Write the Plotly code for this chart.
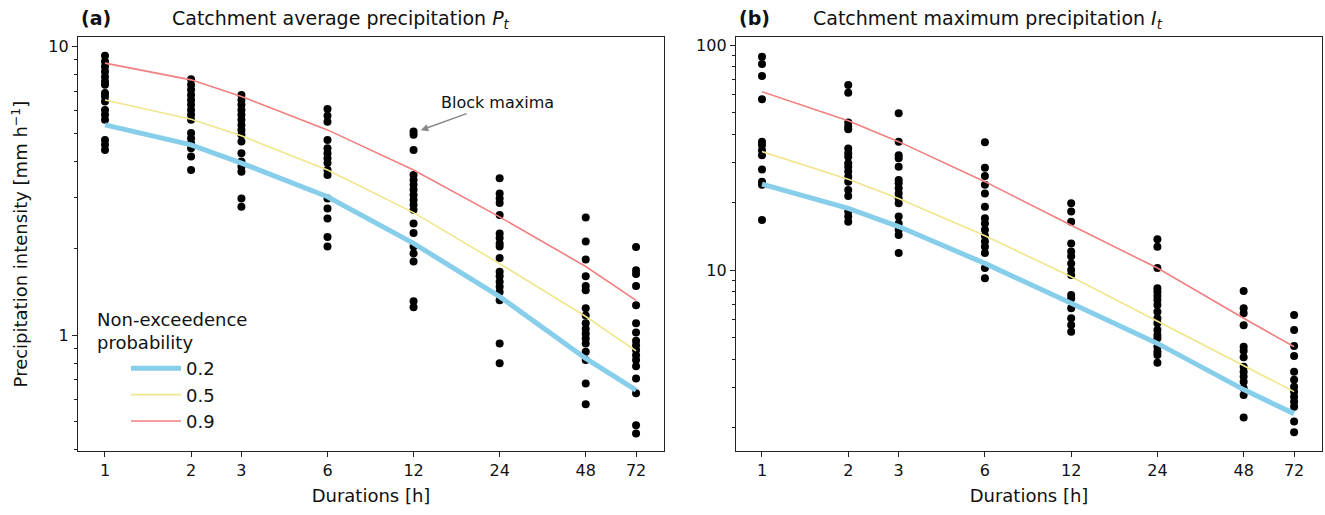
import plotly.graph_objects as go
import numpy as np

W, H = 1325, 515

durations = [1, 2, 3, 6, 12, 24, 48, 72]
duration_labels = ["1", "2", "3", "6", "12", "24", "48", "72"]

# (a) Catchment average precipitation P_t — block maxima [mm/h]
P_1h = [9.31, 8.89, 8.54, 8.21, 7.88, 7.58, 7.38, 6.91, 6.72, 6.46, 6.04, 5.81, 5.58, 4.75, 4.57, 4.39]
P_2h = [7.72, 7.38, 7.10, 6.81, 6.54, 6.29, 6.04, 5.81, 5.58, 5.02, 4.82, 4.63, 4.45, 4.16, 3.74]
P_3h = [6.81, 6.54, 6.29, 6.04, 5.81, 5.58, 5.36, 5.15, 4.95, 4.69, 4.27, 4.00, 3.84, 3.69, 2.98, 2.79]
P_6h = [6.08, 5.76, 5.50, 4.75, 4.45, 4.27, 4.11, 3.95, 3.74, 3.59, 2.98, 2.75, 2.54, 2.19, 2.03]
P_12h = [5.08, 4.95, 4.39, 3.59, 3.45, 3.32, 3.19, 3.06, 2.94, 2.83, 2.72, 2.44, 2.26, 2.03, 1.92, 1.80, 1.31, 1.25]
P_24h = [3.50, 3.10, 2.98, 2.87, 2.61, 2.25, 2.17, 2.08, 2.03, 1.85, 1.66, 1.60, 1.53, 1.47, 1.41, 1.32, 0.936, 0.798]
P_48h = [2.56, 2.11, 1.83, 1.60, 1.48, 1.43, 1.24, 1.17, 1.10, 1.05, 1.01, 0.974, 0.936, 0.875, 0.819, 0.680, 0.576]
P_72h = [2.02, 1.68, 1.63, 1.48, 1.27, 1.10, 1.02, 0.955, 0.923, 0.887, 0.852, 0.819, 0.780, 0.707, 0.628, 0.487, 0.456]

# (a) fitted quantiles by non-exceedence probability
P_q02 = [5.36, 4.57, 3.95, 3.02, 2.08, 1.36, 0.83, 0.644]
P_q05 = [6.54, 5.61, 4.91, 3.74, 2.66, 1.77, 1.16, 0.882]
P_q09 = [8.78, 7.68, 6.72, 5.15, 3.74, 2.57, 1.73, 1.32]

# (b) Catchment maximum precipitation I_t — block maxima [mm/h]
I_1h = [88.7, 82.3, 72.8, 57.4, 37.2, 35.9, 34.1, 32.4, 28.0, 24.7, 23.9, 16.7]
I_2h = [66.4, 61.4, 45.2, 43.4, 42.2, 34.7, 33.0, 31.9, 29.8, 28.8, 27.4, 26.0, 24.7, 22.7, 21.3, 18.2, 17.3, 16.4]
I_3h = [49.7, 37.2, 32.4, 31.4, 28.8, 25.1, 24.3, 23.1, 21.9, 20.8, 19.8, 17.3, 16.1, 15.1, 14.3, 11.9]
I_6h = [37.0, 28.5, 26.2, 23.9, 21.9, 19.1, 17.0, 16.1, 15.1, 14.2, 13.4, 12.7, 11.9, 10.2, 9.18]
I_12h = [19.8, 18.2, 16.4, 13.1, 12.1, 11.5, 10.7, 10.0, 9.50, 7.74, 7.48, 6.76, 6.10, 5.70, 5.32]
I_24h = [13.7, 12.7, 10.2, 8.29, 8.01, 7.66, 7.36, 6.99, 6.53, 6.10, 5.80, 5.41, 5.14, 4.97, 4.56, 4.33, 4.19, 3.87]
I_48h = [8.07, 6.76, 6.42, 5.68, 4.56, 4.38, 4.09, 3.72, 3.53, 3.36, 3.19, 2.98, 2.78, 2.21]
I_72h = [6.31, 5.41, 4.60, 4.15, 3.53, 3.25, 3.03, 2.88, 2.73, 2.60, 2.47, 2.12, 1.90]

# (b) fitted quantiles
I_q02 = [24.1, 18.8, 15.6, 10.7, 7.11, 4.72, 2.94, 2.30]
I_q05 = [33.6, 25.3, 20.8, 14.2, 9.34, 5.94, 3.75, 2.88]
I_q09 = [62.0, 46.1, 37.2, 24.7, 15.8, 10.2, 6.10, 4.56]

prob_labels = ["0.2", "0.5", "0.9"]
prob_colors = ["#87CEEB", "#F0E68C", "#F08080"]
prob_widths = [5, 1.6, 1.6]

P_maxima = [P_1h, P_2h, P_3h, P_6h, P_12h, P_24h, P_48h, P_72h]
I_maxima = [I_1h, I_2h, I_3h, I_6h, I_12h, I_24h, I_48h, I_72h]

FONT = "DejaVu Sans"
fig = go.Figure()

def add_panel(maxima, quantiles, xa, ya, showlegend):
    xs, ys = [], []
    for d, vals in zip(durations, maxima):
        xs += [d] * len(vals)
        ys += vals
    fig.add_trace(go.Scatter(x=xs, y=ys, mode="markers", xaxis=xa, yaxis=ya,
                             marker=dict(color="black", size=8), showlegend=False,
                             name="Block maxima"))
    for q, lab, col, lw in zip(quantiles, prob_labels, prob_colors, prob_widths):
        fig.add_trace(go.Scatter(x=durations, y=q, mode="lines", xaxis=xa, yaxis=ya,
                                 line=dict(color=col, width=lw), name=lab,
                                 showlegend=showlegend))

add_panel(P_maxima, [P_q02, P_q05, P_q09], "x", "y", True)
add_panel(I_maxima, [I_q02, I_q05, I_q09], "x2", "y2", False)

def px_x(p):
    return p / W

def px_y(p):
    return 1 - p / H

common_x = dict(type="log", tickmode="array", tickvals=durations, ticktext=duration_labels,
                ticks="outside", ticklen=5, tickwidth=1.2, tickcolor="#222",
                showline=True, linecolor="#222", linewidth=1.3, mirror=True,
                showgrid=False, zeroline=False, automargin=False,
                tickfont=dict(family=FONT, size=16, color="#111"),
                title=dict(text="Durations [h]", font=dict(family=FONT, size=18, color="#111"), standoff=10))
common_y = dict(type="log", ticks="outside", ticklen=5, tickwidth=1.2, tickcolor="#222",
                showline=True, linecolor="#222", linewidth=1.3, mirror=True,
                showgrid=False, zeroline=False, automargin=False,
                tickfont=dict(family=FONT, size=16, color="#111"))

yd = [px_y(451), px_y(37)]
fig.update_layout(
    width=W, height=H, margin=dict(l=0, r=0, t=0, b=0),
    paper_bgcolor="white", plot_bgcolor="white",
    font=dict(family=FONT, size=16, color="#111"),
    xaxis=dict(common_x, domain=[px_x(78), px_x(664)], range=[-0.0944, 1.955], anchor="y"),
    yaxis=dict(common_y, domain=yd, range=[-0.402, 1.034], anchor="x",
               tickmode="array", tickvals=[1, 10], ticktext=["1", "10"],
               minor=dict(ticks="outside", ticklen=3, tickwidth=1, tickcolor="#222",
                          tickmode="array", tickvals=[0.4, 0.5, 0.6, 0.7, 0.8, 0.9, 2, 3, 4, 5, 6, 7, 8, 9]),
               title=dict(text="Precipitation intensity [mm h<sup>−1</sup>]",
                          font=dict(family=FONT, size=18, color="#111"), standoff=15)),
    xaxis2=dict(common_x, domain=[px_x(736), px_x(1322)], range=[-0.0907, 1.9547], anchor="y2"),
    yaxis2=dict(common_y, domain=yd, range=[0.1956, 2.0356], anchor="x2",
                tickmode="array", tickvals=[10, 100], ticktext=["10", "100"],
                minor=dict(ticks="outside", ticklen=3, tickwidth=1, tickcolor="#222",
                           tickmode="array", tickvals=[2, 3, 4, 5, 6, 7, 8, 9, 20, 30, 40, 50, 60, 70, 80, 90])),
    legend=dict(x=px_x(126), y=px_y(350), xanchor="left", yanchor="top",
                bgcolor="rgba(0,0,0,0)", font=dict(family=FONT, size=18, color="#111"),
                itemwidth=50, tracegroupgap=0),
    showlegend=True,
)

ann = []
ann.append(dict(text="<b>(a)</b>", x=px_x(79), y=px_y(18), xref="paper", yref="paper",
                xanchor="left", yanchor="middle", showarrow=False,
                font=dict(family=FONT, size=19, color="#111")))
ann.append(dict(text="Catchment average precipitation <i>P</i><sub><i>t</i></sub>",
                x=px_x(341), y=px_y(19), xref="paper", yref="paper",
                xanchor="center", yanchor="middle", showarrow=False,
                font=dict(family=FONT, size=19, color="#111")))
ann.append(dict(text="<b>(b)</b>", x=px_x(737), y=px_y(18), xref="paper", yref="paper",
                xanchor="left", yanchor="middle", showarrow=False,
                font=dict(family=FONT, size=19, color="#111")))
ann.append(dict(text="Catchment maximum precipitation <i>I</i><sub><i>t</i></sub>",
                x=px_x(988), y=px_y(19), xref="paper", yref="paper",
                xanchor="center", yanchor="middle", showarrow=False,
                font=dict(family=FONT, size=19, color="#111")))
ann.append(dict(text="Non-exceedence<br>probability", x=px_x(95), y=px_y(307),
                xref="paper", yref="paper", xanchor="left", yanchor="top", align="left",
                showarrow=False, font=dict(family=FONT, size=18, color="#111")))
# Block maxima arrow pointing at the largest 12 h maximum
ann.append(dict(text="Block maxima", x=np.log10(12) + 0.012, y=np.log10(max(P_12h)),
                xref="x", yref="y", ax=80, ay=-29, showarrow=True,
                arrowhead=2, arrowsize=1, arrowwidth=1.5, arrowcolor="#888",
                font=dict(family=FONT, size=16, color="#111"), standoff=4))
fig.update_layout(annotations=ann)

fig.write_html("out.html")
